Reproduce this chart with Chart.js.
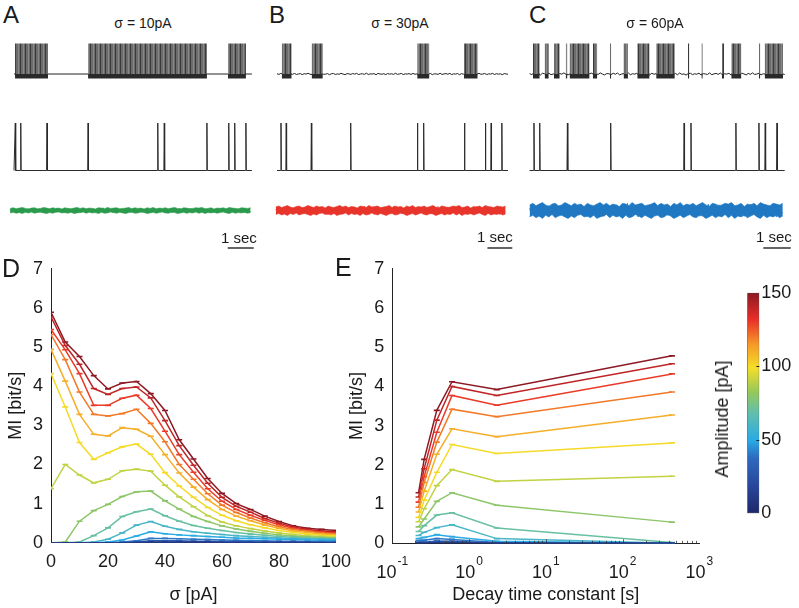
<!DOCTYPE html>
<html>
<head>
<meta charset="utf-8">
<script src="https://cdn.jsdelivr.net/npm/chart.js@4.4.0/dist/chart.umd.min.js"></script>
<style>
  body { margin: 0; background: #fff; width: 799px; height: 608px; overflow: hidden; position: relative;
         font-family: "Liberation Sans", Arial, sans-serif; color: #1a1a1a; }
  canvas { position: absolute; }
  .t { position: absolute; white-space: nowrap; line-height: 1; }
</style>
</head>
<body>
<canvas id="trA" width="265" height="215" style="left:0px;top:35px"></canvas>
<canvas id="trB" width="265" height="215" style="left:265px;top:35px"></canvas>
<canvas id="trC" width="271" height="215" style="left:528px;top:35px"></canvas>
<canvas id="chartD" width="360" height="358" style="left:0px;top:250px"></canvas>
<canvas id="chartE" width="380" height="358" style="left:340px;top:250px"></canvas>
<canvas id="cbar" width="59" height="250" style="left:740px;top:280px"></canvas>

<div class="t" style="left:3px;top:3px;font-size:24px">A</div>
<div class="t" style="left:269px;top:3px;font-size:24px">B</div>
<div class="t" style="left:529px;top:3px;font-size:24px">C</div>
<div class="t" style="left:2px;top:256px;font-size:25px">D</div>
<div class="t" style="left:335px;top:255px;font-size:25px">E</div>
<div class="t" id="sigA" style="left:143px;top:16px;font-size:14px;transform:translateX(-50%)"></div>
<div class="t" id="sigB" style="left:400px;top:16px;font-size:14px;transform:translateX(-50%)"></div>
<div class="t" id="sigC" style="left:655px;top:16px;font-size:14px;transform:translateX(-50%)"></div>
<div class="t" style="left:221px;top:230px;font-size:15px">1 sec</div>
<div class="t" style="left:477px;top:229px;font-size:15px">1 sec</div>
<div class="t" style="left:756px;top:229px;font-size:15px">1 sec</div>
<div class="t" style="left:722px;top:419px;font-size:18px;transform:translate(-50%,-50%) rotate(-90deg)">Amplitude [pA]</div>

<script>
Chart.defaults.font.family = '"Liberation Sans", Arial, sans-serif';
Chart.defaults.color = '#1a1a1a';

// ---- panels A-C ----
const panelSigma = [10, 30, 60];
// stimulus spike times [s] (middle rows)
const stimSpikes = [0.05, 0.26, 1.27, 2.85, 5.53, 5.78, 7.42, 8.26, 8.49, 8.92];
// burst intervals [s] in the neuron trace (top rows)
const burstsA = [[0.04, 1.31], [2.85, 7.42], [8.23, 8.92]];
const burstsB = [[0.08, 0.48], [1.28, 1.73], [5.52, 6.01], [7.40, 7.95]];
const burstsC = [[0.01, 0.26], [0.44, 0.59], [0.78, 0.99], [1.21, 1.27], [1.35, 2.08], [2.20, 2.36],
                 [2.82, 2.87], [3.32, 3.48], [3.82, 4.27], [4.51, 5.19], [5.67, 5.72], [6.16, 6.21],
                 [6.91, 6.99], [7.25, 7.62], [8.26, 8.31], [8.47, 9.14]];
// normalised noise samples of the input current (bottom rows)
const noise = [0.3,-0.5,0.8,-0.2,0.1,-0.9,0.6,0.2,-0.4,0.7,-0.6,0.0,0.5,-0.8,0.4,-0.1,0.9,-0.3,-0.7,0.2,
  0.6,-0.5,0.1,0.8,-0.4,-0.2,0.5,-0.9,0.3,0.7,-0.6,0.1,-0.3,0.9,-0.1,-0.8,0.4,0.2,-0.5,0.6,
  -0.2,0.8,-0.7,0.0,0.3,-0.4,1.0,-0.6,0.2,-0.1,0.5,-0.9,0.7,0.1,-0.3,0.4,-0.8,0.6,-0.2,0.3,
  -0.5,0.9,-0.4,0.0,0.7,-0.7,0.2,-0.1,0.5,-0.6,0.8,-0.3,0.1,-0.9,0.4,0.6,-0.5,0.2,-0.2,0.7,
  -0.8,0.3,0.0,-0.4,0.9,-0.6,0.1,0.5,-0.3,0.8,-0.7,0.2,-0.1,0.6,-0.9,0.4,-0.2,0.3,-0.5,0.7,
  0.1,-0.8,0.5,-0.3,0.9,-0.4,0.0,0.6,-0.7,0.2,-0.1,0.8,-0.6,0.4,-0.2,0.3,-0.9,0.5,0.1,-0.4];
// upper / lower envelope of the noise band
const noiseHi = [0.7,0.9,0.6,0.8,1.0,0.7,0.5,0.8,0.9,0.6,0.7,1.0,0.8,0.6,0.9,0.7,0.8,0.5,0.9,0.7,
  0.6,0.8,1.0,0.7,0.9,0.6,0.8,0.7,0.5,0.9,0.8,0.6,1.0,0.7,0.8,0.9,0.6,0.7,0.8,1.0,
  0.6,0.9,0.7,0.8,0.5,0.9,0.7,1.0,0.6,0.8,0.7,0.9,0.6,0.8,1.0,0.7,0.5,0.9,0.8,0.6,
  0.7,0.9,0.8,1.0,0.6,0.7,0.9,0.5,0.8,0.7,0.9,0.6,1.0,0.8,0.7,0.6,0.9,0.8,0.7,0.9];
const noiseLo = [-0.8,-0.6,-0.9,-0.7,-1.0,-0.6,-0.8,-0.5,-0.9,-0.7,-0.6,-0.8,-1.0,-0.7,-0.9,-0.6,-0.5,-0.8,-0.7,-0.9,
  -0.6,-1.0,-0.8,-0.7,-0.5,-0.9,-0.6,-0.8,-0.7,-1.0,-0.6,-0.9,-0.8,-0.5,-0.7,-0.9,-0.6,-0.8,-1.0,-0.7,
  -0.6,-0.9,-0.8,-0.5,-0.7,-1.0,-0.8,-0.6,-0.9,-0.7,-0.5,-0.8,-0.9,-0.6,-0.7,-1.0,-0.8,-0.6,-0.9,-0.7,
  -0.8,-0.5,-0.9,-0.6,-1.0,-0.7,-0.8,-0.6,-0.9,-0.7,-0.5,-0.8,-1.0,-0.6,-0.9,-0.7,-0.8,-0.6,-0.9,-0.7];

// ---- panel D ----
const sigma = [0,5,10,15,20,25,30,35,40,45,50,55,60,65,70,75,80,85,90,95,100];
const amplitudes = [10,20,30,40,50,60,70,80,90,100,110,120,130,140,150];
const miD10  = [0,0,0,0,0,0,0,0.01,0.01,0.01,0.01,0.01,0,0,0,0,0,0,0,0,0];
const miD20  = [0,0,0,0,0,0,0.01,0.02,0.02,0.02,0.02,0.02,0.01,0.01,0.01,0.01,0.01,0.01,0.01,0,0];
const miD30  = [0,0,0,0,0,0,0.02,0.05,0.05,0.05,0.04,0.04,0.03,0.03,0.02,0.02,0.02,0.02,0.01,0.01,0.01];
const miD40  = [0,0,0,0,0,0.02,0.05,0.11,0.11,0.10,0.09,0.08,0.07,0.06,0.05,0.05,0.04,0.04,0.03,0.03,0.03];
const miD50  = [0,0,0,0,0.02,0.07,0.17,0.28,0.23,0.20,0.18,0.16,0.14,0.12,0.11,0.10,0.09,0.08,0.07,0.06,0.06];
const miD60  = [0,0,0,0.02,0.09,0.25,0.45,0.54,0.42,0.34,0.28,0.24,0.21,0.18,0.16,0.14,0.12,0.11,0.10,0.09,0.08];
const miD70  = [0,0,0.02,0.18,0.38,0.67,0.79,0.86,0.69,0.55,0.44,0.37,0.31,0.26,0.22,0.19,0.16,0.14,0.12,0.11,0.10];
const miD80  = [0,0.02,0.55,0.82,0.98,1.18,1.30,1.32,1.07,0.86,0.67,0.54,0.43,0.35,0.29,0.24,0.20,0.17,0.15,0.13,0.12];
const miD90  = [1.38,2.00,1.73,1.53,1.62,1.84,1.88,1.83,1.47,1.17,0.92,0.69,0.53,0.43,0.36,0.30,0.25,0.21,0.18,0.16,0.14];
const miD100 = [4.32,3.47,2.56,2.13,2.30,2.45,2.52,2.26,1.79,1.45,1.16,0.90,0.70,0.56,0.46,0.38,0.31,0.26,0.22,0.19,0.17];
const miD110 = [4.94,4.13,3.28,2.77,2.73,2.94,2.90,2.72,2.25,1.78,1.42,1.10,0.85,0.68,0.56,0.45,0.37,0.30,0.26,0.22,0.20];
const miD120 = [5.32,4.68,3.85,3.28,3.24,3.30,3.41,3.05,2.58,2.00,1.62,1.25,0.96,0.77,0.63,0.51,0.41,0.34,0.29,0.25,0.22];
const miD130 = [5.45,4.93,4.32,3.51,3.51,3.69,3.77,3.43,2.85,2.25,1.80,1.38,1.06,0.85,0.70,0.57,0.46,0.37,0.31,0.27,0.25];
const miD140 = [5.77,5.04,4.56,3.94,3.79,3.94,3.98,3.70,3.12,2.48,1.98,1.52,1.16,0.93,0.78,0.62,0.50,0.40,0.34,0.30,0.28];
const miD150 = [5.89,5.13,4.76,4.27,3.93,4.08,4.12,3.81,3.38,2.63,2.14,1.64,1.26,1.00,0.85,0.68,0.54,0.43,0.37,0.34,0.31];

// ---- panel E ----
const tau = [0.22, 0.26, 0.38, 0.6, 2.3, 440];
const miE10  = [0,0,0,0.01,0,0];
const miE20  = [0.01,0.01,0.02,0.02,0,0];
const miE30  = [0.03,0.03,0.06,0.05,0.01,0];
const miE40  = [0.07,0.08,0.12,0.10,0.02,0];
const miE50  = [0.12,0.15,0.22,0.17,0.05,0];
const miE60  = [0.20,0.28,0.40,0.47,0.12,0];
const miE70  = [0.30,0.45,0.72,0.78,0.39,0.02];
const miE80  = [0.42,0.62,1.07,1.29,0.97,0.54];
const miE90  = [0.55,0.88,1.47,1.88,1.58,1.71];
const miE100 = [0.66,1.10,1.81,2.52,2.29,2.56];
const miE110 = [0.80,1.33,2.27,2.92,2.72,3.27];
const miE120 = [0.92,1.55,2.58,3.42,3.23,3.86];
const miE130 = [1.05,1.70,2.83,3.77,3.52,4.32];
const miE140 = [1.18,1.90,3.14,4.00,3.77,4.58];
const miE150 = [1.29,2.14,3.39,4.12,3.92,4.78];
const eTickPowers = [-1, 0, 1, 2, 3];

// ---- colour bar ----
const ampRange = [0, 150];
const cbTicks = [0, 50, 100, 150];

const miD = [miD10,miD20,miD30,miD40,miD50,miD60,miD70,miD80,miD90,miD100,miD110,miD120,miD130,miD140,miD150];
const miE = [miE10,miE20,miE30,miE40,miE50,miE60,miE70,miE80,miE90,miE100,miE110,miE120,miE130,miE140,miE150];

// colour map sampled from the colour bar
const cmapStops = [[0,[30,40,105]],[0.12,[40,70,155]],[0.25,[45,105,190]],[0.33,[40,170,230]],
  [0.45,[95,190,175]],[0.55,[150,200,90]],[0.66,[245,222,40]],[0.77,[245,150,40]],
  [0.88,[232,45,40]],[1,[140,25,35]]];
function cmap(v) {
  for (let i = 1; i < cmapStops.length; i++) {
    const [p1, c1] = cmapStops[i], [p0, c0] = cmapStops[i - 1];
    if (v <= p1) {
      const f = (v - p0) / (p1 - p0);
      return 'rgb(' + c0.map((c, k) => Math.round(c + (c1[k] - c) * f)).join(',') + ')';
    }
  }
  return 'rgb(140,25,35)';
}
const ampColor = a => cmap(a / ampRange[1]);

// ---------- traces ----------
const lvl = px => 250 - px;   // page y -> trace chart value
const ROW = { peak: lvl(43.5), base: lvl(74), trough: lvl(78.5), spBase: lvl(170.5), spPeak: lvl(123),
              noiseMid: lvl(210.5), bar: lvl(248) };

// striped grey for the dense spike bursts
const stripeCanvas = document.createElement('canvas');
stripeCanvas.width = 5; stripeCanvas.height = 4;
(function () {
  const g = stripeCanvas.getContext('2d');
  g.fillStyle = '#6c6c6c'; g.fillRect(0, 0, 5, 4);
  g.fillStyle = '#3a3a3a'; g.fillRect(0, 0, 1, 4);
  g.fillStyle = '#888888'; g.fillRect(3, 0, 1, 4);
})();
const burstFill = stripeCanvas.getContext('2d').createPattern(stripeCanvas, 'repeat');

function along(arr, t0, t1, mid, amp) {
  const n = arr.length;
  return arr.map((v, i) => ({ x: t0 + (t1 - t0) * i / (n - 1), y: mid + v * amp }));
}

function traceChart(id, bursts, p) {
  const ds = [];
  bursts.forEach(b => {
    ds.push({ data: [{x: b[0], y: ROW.peak}, {x: b[1], y: ROW.peak}], fill: {value: ROW.base},
              backgroundColor: burstFill, borderWidth: 0, pointRadius: 0 });
    ds.push({ data: [{x: b[0], y: ROW.base + 1}, {x: b[1], y: ROW.base + 1}], fill: {value: ROW.trough},
              backgroundColor: '#2a2a2a', borderWidth: 0, pointRadius: 0 });
  });
  ds.push({ data: along(noise, p.t0, p.t1, ROW.base, p.jitter), borderColor: '#222', borderWidth: 1, pointRadius: 0 });
  const sp = [{x: p.t0, y: ROW.spBase}];
  stimSpikes.forEach(t => sp.push({x: t - 0.015, y: ROW.spBase}, {x: t, y: ROW.spPeak}, {x: t + 0.015, y: ROW.spBase}));
  sp.push({x: p.t1, y: ROW.spBase});
  ds.push({ data: sp, borderColor: '#2b2b2b', borderWidth: 1, pointRadius: 0 });
  ds.push({ data: along(noise, p.n0, p.n1, ROW.noiseMid, p.amp * 0.9), borderColor: p.color, borderWidth: 0.8, pointRadius: 0 });
  ds.push({ data: along(noiseHi, p.n0, p.n1, ROW.noiseMid, p.amp), borderWidth: 0.6, borderColor: p.color,
            backgroundColor: p.color, fill: '+1', pointRadius: 0 });
  ds.push({ data: along(noiseLo, p.n0, p.n1, ROW.noiseMid, p.amp), borderWidth: 0.6, borderColor: p.color,
            pointRadius: 0 });
  ds.push({ data: [{x: p.bar, y: ROW.bar}, {x: p.bar + 1, y: ROW.bar}], borderColor: '#111', borderWidth: 1.3, pointRadius: 0 });

  new Chart(document.getElementById(id), {
    type: 'line',
    data: { datasets: ds },
    options: {
      responsive: false, animation: false,
      layout: { padding: 0 },
      elements: { line: { tension: 0 } },
      plugins: { legend: { display: false }, tooltip: { enabled: false } },
      scales: {
        x: { type: 'linear', display: false, min: p.xmin, max: p.xmax },
        y: { display: false, min: 0, max: 215 }
      }
    }
  });
}

function span(left, width, t0px, pps) { return { xmin: (left - t0px) / pps, xmax: (left + width - t0px) / pps }; }

traceChart('trA', burstsA, Object.assign(span(0, 265, 14, 26),
  { t0: 0, t1: 9.15, n0: -0.15, n1: 9.1, amp: 3, jitter: 0, color: '#2b9a4c', bar: 8.22 }));
traceChart('trB', burstsB, Object.assign(span(265, 265, 279.75, 24.9),
  { t0: -0.11, t1: 9.17, n0: -0.16, n1: 9.07, amp: 5, jitter: 0.8, color: '#e8352c', bar: 8.34 }));
traceChart('trC', burstsC, Object.assign(span(528, 271, 532.6, 27.4),
  { t0: -0.11, t1: 9.2, n0: -0.11, n1: 9.13, amp: 8, jitter: 1.2, color: '#1f78c1', bar: 8.42 }));

['sigA', 'sigB', 'sigC'].forEach((id, i) => {
  document.getElementById(id).textContent = 'σ\u00a0=\u00a0' + panelSigma[i] + 'pA';
});

// ---------- D & E ----------
const tickFont = { size: 18 };
const titleFont = { size: 18 };

function lineSets(xs, table) {
  return amplitudes.map((a, i) => ({
    label: a + ' pA',
    data: xs.map((x, j) => ({ x: x, y: table[i][j] })),
    borderColor: ampColor(a), backgroundColor: ampColor(a),
    borderWidth: 1.5, pointStyle: 'line', pointRadius: 3, pointBorderWidth: 1.6,
    pointBorderColor: ampColor(a)
  }));
}

new Chart(document.getElementById('chartD'), {
  type: 'line',
  data: { datasets: lineSets(sigma, miD) },
  options: {
    responsive: false, animation: false,
    layout: { padding: { left: 0, right: 22, top: 18.3, bottom: 0 } },
    elements: { line: { tension: 0 } },
    plugins: { legend: { display: false }, tooltip: { enabled: false } },
    scales: {
      x: { type: 'linear', min: 0, max: 100,
           border: { color: '#222', width: 1 }, grid: { display: false, drawTicks: false },
           ticks: { stepSize: 20, padding: 9, font: tickFont, maxRotation: 0 },
           title: { display: true, text: 'σ [pA]', font: titleFont, padding: { top: 0, bottom: 2 } },
           afterFit(s) { s.height = 65.3; } },
      y: { min: 0, max: 7,
           border: { color: '#222', width: 1 }, grid: { display: false, drawTicks: false },
           ticks: { stepSize: 1, padding: 8, font: tickFont },
           title: { display: true, text: 'MI [bit/s]', font: titleFont, padding: { top: 5, bottom: 0 } },
           afterFit(s) { s.width = 51; } }
    }
  }
});

const logAxisDecor = {
  id: 'logAxisDecor',
  afterDraw(chart) {
    const sc = chart.scales.x, c = chart.ctx, y0 = sc.top;
    c.save();
    c.strokeStyle = '#333'; c.lineWidth = 0.8;
    for (let k = eTickPowers[0]; k < eTickPowers[eTickPowers.length - 1]; k++) {
      for (let m = 1; m <= 9; m++) {
        const x = Math.round(sc.getPixelForValue(m * Math.pow(10, k))) + 0.5;
        c.beginPath(); c.moveTo(x, y0); c.lineTo(x, y0 - (m === 1 ? 4 : 2.5)); c.stroke();
      }
    }
    c.fillStyle = '#1a1a1a'; c.textBaseline = 'alphabetic'; c.textAlign = 'left';
    const base = '18px "Liberation Sans", Arial, sans-serif', sup = '12px "Liberation Sans", Arial, sans-serif';
    eTickPowers.forEach(p => {
      const x = sc.getPixelForValue(Math.pow(10, p));
      c.font = base; const wb = c.measureText('10').width;
      c.font = sup; const we = c.measureText(String(p)).width;
      const left = x - (wb + we + 1) / 2;
      c.font = base; c.fillText('10', left, y0 + 35);
      c.font = sup; c.fillText(String(p), left + wb + 1, y0 + 22);
    });
    c.restore();
  }
};

new Chart(document.getElementById('chartE'), {
  type: 'line',
  data: { datasets: lineSets(tau, miE) },
  options: {
    responsive: false, animation: false,
    layout: { padding: { left: 0, right: 20.7, top: 13.3, bottom: 0 } },
    elements: { line: { tension: 0 } },
    plugins: { legend: { display: false }, tooltip: { enabled: false } },
    scales: {
      x: { type: 'logarithmic', min: 0.1, max: 1000,
           border: { color: '#222', width: 1 }, grid: { display: false, drawTicks: false },
           ticks: { display: false },
           title: { display: true, text: 'Decay time constant [s]', font: titleFont, padding: { top: 0, bottom: 2 } },
           afterFit(s) { s.height = 64.7; } },
      y: { min: 0, max: 7,
           border: { color: '#222', width: 1 }, grid: { display: false, drawTicks: false },
           ticks: { stepSize: 1, padding: 8, font: tickFont },
           title: { display: true, text: 'MI [bit/s]', font: titleFont, padding: { top: 5.9, bottom: 0 } },
           afterFit(s) { s.width = 52.3; } }
    }
  },
  plugins: [logAxisDecor]
});

// small inward ticks on the colour bar
const cbarTicks = {
  id: 'cbarTicks',
  afterDraw(chart) {
    const sc = chart.scales.y, c = chart.ctx, a = chart.chartArea;
    c.save(); c.strokeStyle = '#222'; c.lineWidth = 1;
    cbTicks.slice(1, -1).forEach(v => {
      const y = Math.round(sc.getPixelForValue(v)) + 0.5;
      c.beginPath(); c.moveTo(a.right - 3, y); c.lineTo(a.right, y); c.stroke();
    });
    c.restore();
  }
};

// ---------- colour bar ----------
new Chart(document.getElementById('cbar'), {
  type: 'bar',
  data: { labels: [''], datasets: [{
    data: [ampRange],
    barPercentage: 1, categoryPercentage: 1,
    borderColor: '#444', borderWidth: 0.8, borderSkipped: false,
    backgroundColor(ctx) {
      const { ctx: c, chartArea } = ctx.chart;
      if (!chartArea) return '#888';
      const g = c.createLinearGradient(0, chartArea.bottom, 0, chartArea.top);
      cmapStops.forEach(s => g.addColorStop(s[0], cmap(s[0])));
      return g;
    }
  }] },
  options: {
    responsive: false, animation: false,
    layout: { padding: { left: 7.3, right: 0, top: 11.7, bottom: 16.7 } },
    plugins: { legend: { display: false }, tooltip: { enabled: false } },
    scales: {
      x: { display: false },
      y: { position: 'right', min: ampRange[0], max: ampRange[1],
           border: { display: false }, grid: { display: false, drawTicks: false },
           afterBuildTicks(s) { s.ticks = cbTicks.map(v => ({ value: v })); },
           ticks: { padding: 2, font: tickFont },
           afterFit(s) { s.width = 39.7; } }
    }
  },
  plugins: [cbarTicks]
});
</script>
</body>
</html>
